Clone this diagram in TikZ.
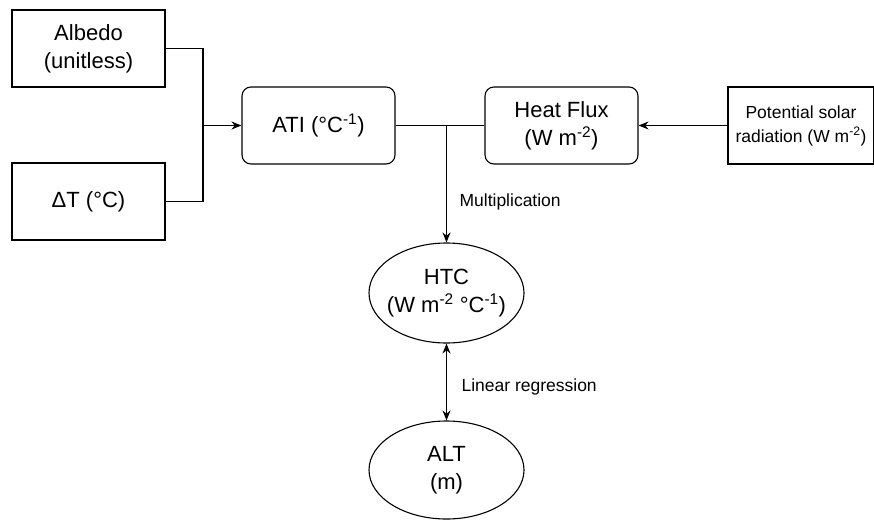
\documentclass[tikz,border=0pt]{standalone}
\usepackage{fontspec}
\setmainfont{Liberation Sans}
\usetikzlibrary{arrows.meta,shapes.geometric}
\begin{document}
\begin{tikzpicture}[x=1pt,y=-1pt,
  line width=1.1pt,
  big/.style={font=\fontsize{22}{28}\selectfont, align=center, inner sep=0pt},
  small/.style={font=\fontsize{17.5}{24}\selectfont, align=center, inner sep=0pt},
  sqbox/.style={draw, rectangle, minimum width=153pt, minimum height=77pt},
  rbox/.style={draw, rectangle, rounded corners=9pt, minimum width=153pt, minimum height=77pt},
  ell/.style={draw, ellipse, inner sep=0pt, minimum width=155pt, minimum height=100pt},
  arr/.style={-{Stealth[length=10pt,width=8pt]}},
  darr/.style={{Stealth[length=10pt,width=8pt]}-{Stealth[length=10pt,width=8pt]}}
]
\useasboundingbox (0,0) rectangle (874,519);
\node[sqbox, big] (alb) at (88.5,48.5) {Albedo\\(unitless)};
\node[sqbox, big] (dt) at (88.5,201.5) {ΔT (°C)};
\node[rbox, big] (ati) at (318.5,125.5) {ATI (°C\textsuperscript{-1})};
\node[rbox, big] (hf) at (561.5,125.5) {Heat Flux\\(W m\textsuperscript{-2})};
\node[sqbox, small, minimum width=146pt] (psr) at (801,125.5) {Potential solar\\radiation (W m\textsuperscript{-2})};
\node[ell, big] (htc) at (446.5,293) {\makebox[0pt]{HTC}\\\makebox[0pt]{(W m\textsuperscript{-2} °C\textsuperscript{-1})}};
\node[ell, big, minimum height=98pt] (alt) at (446.5,470) {\makebox[0pt]{ALT}\\\makebox[0pt]{(m)}};
\coordinate (jl) at (203,125.5);
\coordinate (jr) at (446.5,125.5);
\draw (alb.east) -| (jl);
\draw (dt.east) -| (jl);
\draw[arr] (jl) -- (ati.west);
\draw (ati.east) -- (hf.west);
\draw[arr] (psr.west) -- (hf.east);
\draw[arr] (jr) -- (htc.north);
\draw[darr] (htc.south) -- (alt.north);
\node[small, anchor=west] (mul) at (459,202) {Multiplication};
\node[small, anchor=west] (lr) at (461,387) {Linear regression};
\end{tikzpicture}
\end{document}
